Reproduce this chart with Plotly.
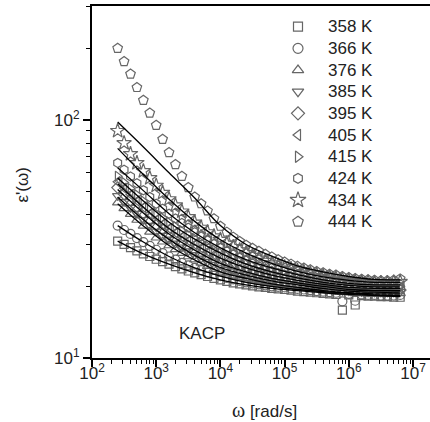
import plotly.graph_objects as go

# ---------------- data ----------------
omega = [251, 316, 398, 501, 631, 794, 1000, 1259, 1585, 1995, 2512, 3162, 3981, 5012,
         6310, 7943, 10000, 12589, 15849, 19953, 25119, 31623, 39811, 50119, 63096, 79433,
         100000, 125893, 158489, 199526, 251189, 316228, 398107, 501187, 630957, 794328,
         1000000, 1258925, 1584893, 1995262, 2511886, 3162278, 3981072, 5011872, 6309573]

temps = ["358 K", "366 K", "376 K", "385 K", "395 K", "405 K", "415 K", "424 K", "434 K", "444 K"]
symbols = ["square-open", "circle-open", "triangle-up-open", "triangle-down-open", "diamond-open",
           "triangle-left-open", "triangle-right-open", "hexagon-open", "star-open", "pentagon-open"]
sym_sizes = [8, 9, 9, 9, 9, 9, 9, 9, 11, 10]

e358 = [31.0, 30.0, 29.1, 28.2, 27.4, 26.7, 26.0, 25.4, 24.8, 24.2, 23.7, 23.2, 22.8, 22.4, 22.0,
        21.6, 21.3, 21.0, 20.7, 20.5, 20.3, 20.1, 19.9, 19.8, 19.6, 19.5, 19.4, 19.3, 19.1, 19.0,
        18.9, 18.8, 18.7, 18.6, 18.5, 15.9, 18.4, 16.7, 18.3, 18.2, 18.2, 18.1, 18.1, 18.0, 18.0]
e366 = [36.0, 34.5, 33.2, 31.9, 30.7, 29.6, 28.5, 27.6, 26.7, 25.9, 25.1, 24.5, 23.9, 23.4, 22.9,
        22.5, 22.1, 21.7, 21.4, 21.1, 20.8, 20.6, 20.4, 20.2, 20.0, 19.9, 19.8, 19.6, 19.5, 19.4,
        19.3, 19.1, 19.0, 18.9, 18.8, 17.3, 18.6, 17.4, 18.5, 18.4, 18.4, 18.3, 18.3, 18.3, 18.4]
e376 = [45.0, 42.5, 40.2, 38.0, 35.9, 33.9, 32.0, 30.8, 29.7, 28.6, 27.6, 26.7, 25.9, 25.1, 24.3,
        23.6, 23.0, 22.6, 22.2, 21.9, 21.6, 21.3, 21.0, 20.8, 20.6, 20.4, 20.2, 20.0, 19.9, 19.7,
        19.6, 19.4, 19.3, 19.2, 19.0, 18.9, 18.8, 18.7, 18.7, 18.6, 18.6, 18.6, 18.6, 18.6, 18.7]
e385 = [48.0, 45.3, 42.8, 40.4, 38.1, 36.0, 34.0, 32.7, 31.5, 30.3, 29.2, 28.1, 27.1, 26.2, 25.4,
        24.7, 24.0, 23.5, 23.1, 22.7, 22.3, 22.0, 21.7, 21.4, 21.1, 20.9, 20.7, 20.5, 20.3, 20.1,
        20.0, 19.8, 19.6, 19.5, 19.4, 19.2, 19.1, 19.0, 19.0, 18.9, 18.9, 18.9, 18.9, 18.9, 19.0]
e395 = [52.0, 48.9, 46.0, 43.3, 40.7, 38.3, 36.0, 34.6, 33.2, 31.9, 30.7, 29.6, 28.5, 27.5, 26.6,
        25.8, 25.0, 24.4, 23.9, 23.4, 23.0, 22.6, 22.3, 22.0, 21.7, 21.4, 21.2, 21.0, 20.8, 20.6,
        20.4, 20.2, 20.0, 19.9, 19.7, 19.5, 19.4, 19.3, 19.3, 19.2, 19.2, 19.2, 19.2, 19.2, 19.3]
e405 = [55.0, 51.7, 48.6, 45.7, 43.0, 40.4, 38.0, 36.5, 35.0, 33.6, 32.3, 31.1, 30.0, 29.0, 28.0,
        27.1, 26.3, 25.6, 25.0, 24.4, 23.9, 23.4, 23.0, 22.7, 22.4, 22.1, 21.8, 21.5, 21.3, 21.1,
        20.9, 20.7, 20.5, 20.3, 20.1, 20.0, 19.8, 19.7, 19.7, 19.6, 19.6, 19.6, 19.6, 19.6, 19.7]
e415 = [58.0, 54.6, 51.5, 48.5, 45.7, 43.0, 40.5, 38.8, 37.2, 35.7, 34.3, 33.0, 31.8, 30.6, 29.5,
        28.5, 27.6, 26.8, 26.1, 25.4, 24.8, 24.3, 23.8, 23.4, 23.0, 22.7, 22.4, 22.1, 21.8, 21.6,
        21.3, 21.1, 20.9, 20.7, 20.5, 20.4, 20.2, 20.1, 20.0, 20.0, 19.9, 19.9, 19.9, 19.9, 20.0]
e424 = [66.0, 61.8, 57.9, 54.2, 50.7, 47.5, 44.5, 42.4, 40.4, 38.6, 36.9, 35.3, 33.8, 32.4, 31.2,
        30.1, 29.0, 28.1, 27.3, 26.6, 25.9, 25.3, 24.8, 24.3, 23.9, 23.5, 23.2, 22.8, 22.5, 22.2,
        21.9, 21.7, 21.4, 21.2, 21.0, 20.8, 20.6, 20.5, 20.4, 20.3, 20.3, 20.2, 20.2, 20.3, 20.4]
e434 = [90.0, 80.0, 72.0, 66.0, 61.0, 57.0, 53.0, 49.5, 46.5, 43.8, 41.3, 39.1, 37.1, 35.3, 33.8,
        32.5, 31.4, 30.3, 29.3, 28.4, 27.6, 26.9, 26.2, 25.6, 25.0, 24.5, 24.1, 23.7, 23.3, 23.0,
        22.7, 22.4, 22.1, 21.9, 21.6, 21.4, 21.2, 21.0, 20.9, 20.8, 20.7, 20.7, 20.7, 20.8, 20.9]
e444 = [200, 176, 156, 137, 121, 107, 95, 83, 73, 65, 58, 52, 47.5, 44.5, 41.5,
        38.5, 35.8, 33.8, 32.2, 30.9, 29.8, 28.9, 28.1, 27.3, 26.6, 25.9, 25.3, 24.8, 24.3, 23.9,
        23.5, 23.1, 22.8, 22.5, 22.3, 22.0, 21.8, 21.6, 21.4, 21.3, 21.2, 21.1, 21.1, 21.2, 21.5]

# fitted curves (solid lines)
omega_fit = [251, 631, 1585, 3981, 10000, 25119, 63096, 158489, 398107, 1000000, 2511886, 6309573]
f358 = [31.0, 27.4, 24.8, 22.8, 21.3, 20.3, 19.6, 19.2, 18.8, 18.5, 18.3, 18.1]
f366 = [36.0, 30.7, 26.7, 23.9, 22.1, 20.8, 20.0, 19.4, 19.0, 18.7, 18.4, 18.3]
f376 = [44.5, 35.9, 29.7, 25.8, 23.0, 21.6, 20.5, 19.8, 19.2, 18.8, 18.6, 18.6]
f385 = [47.5, 38.1, 31.5, 27.0, 24.0, 22.3, 21.1, 20.3, 19.6, 19.1, 18.9, 18.9]
f395 = [51.0, 40.7, 33.2, 28.4, 25.0, 23.0, 21.6, 20.7, 20.0, 19.4, 19.2, 19.2]
f405 = [54.0, 43.0, 35.0, 29.9, 26.3, 23.9, 22.3, 21.2, 20.4, 19.8, 19.6, 19.6]
f415 = [57.0, 45.7, 37.2, 31.6, 27.6, 24.8, 23.0, 21.7, 20.8, 20.2, 19.9, 19.9]
f424 = [63.0, 50.5, 40.4, 33.6, 29.0, 25.9, 23.9, 22.4, 21.3, 20.6, 20.3, 20.3]
f434 = [76.0, 59.0, 46.5, 37.5, 31.4, 27.6, 25.0, 23.1, 21.9, 21.2, 20.8, 20.8]
f444 = [98.0, 77.0, 60.0, 47.0, 36.0, 30.0, 26.8, 24.4, 23.0, 22.0, 21.4, 21.3]

data_series = [e358, e366, e376, e385, e395, e405, e415, e424, e434, e444]
fit_series = [f358, f366, f376, f385, f395, f405, f415, f424, f434, f444]

y_tickvals = [10, 100]
y_ticktext = ["10<sup>1</sup>", "10<sup>2</sup>"]
x_tickvals = [1e2, 1e3, 1e4, 1e5, 1e6, 1e7]
x_ticktext = ["10<sup>2</sup>", "10<sup>3</sup>", "10<sup>4</sup>", "10<sup>5</sup>",
              "10<sup>6</sup>", "10<sup>7</sup>"]

legend_cols = ["sym", "lab"]

# ---------------- figure ----------------
FONT = "Liberation Sans, Arial, Helvetica, sans-serif"
MARK = "#666666"
TXT = "#222222"

fig = go.Figure()

for vals, sym, sz in zip(data_series, symbols, sym_sizes):
    fig.add_trace(go.Scatter(x=omega, y=vals, mode="markers",
                             marker=dict(symbol=sym, size=sz, color=MARK,
                                         line=dict(width=1.2, color=MARK)),
                             showlegend=False))

for fv in fit_series:
    fig.add_trace(go.Scatter(x=omega_fit, y=fv, mode="lines",
                             line=dict(color="black", width=1.3, shape="spline"),
                             showlegend=False))

# manual legend on overlay category axes
for t, sym, sz in zip(temps, symbols, sym_sizes):
    fig.add_trace(go.Scatter(x=["sym"], y=[t], xaxis="x2", yaxis="y2", mode="markers",
                             marker=dict(symbol=sym, size=sz + 1, color=MARK,
                                         line=dict(width=1.2, color=MARK)),
                             showlegend=False))

annotations = []
for t in temps:
    annotations.append(dict(x=legend_cols.index("lab"), y=temps.index(t), xref="x2", yref="y2",
                            text=t, showarrow=False, xanchor="left", yanchor="middle",
                            font=dict(family=FONT, size=17, color=TXT)))

annotations.append(dict(x=0.252, y=0.071, xref="paper", yref="paper", text="KACP",
                        showarrow=False, xanchor="left", yanchor="middle",
                        font=dict(family=FONT, size=17, color=TXT)))
annotations.append(dict(x=-0.207, y=0.49, xref="paper", yref="paper",
                        text="ε'(ω)", textangle=-90, showarrow=False,
                        xanchor="center", yanchor="middle",
                        font=dict(family=FONT, size=17, color=TXT)))
annotations.append(dict(x=0.51, y=-0.148, xref="paper", yref="paper",
                        text='<span style="font-family:Liberation Serif;font-size:20px">ω</span> [rad/s]',
                        showarrow=False, xanchor="center", yanchor="middle",
                        font=dict(family=FONT, size=17, color=TXT)))

axis_common = dict(type="log", showline=True, linecolor="black", linewidth=2,
                   ticks="outside", ticklen=7, tickwidth=1.5, tickcolor="black",
                   showgrid=False, zeroline=False,
                   tickfont=dict(family=FONT, size=17, color=TXT),
                   minor=dict(ticks="outside", ticklen=4, tickwidth=1, tickcolor="black",
                              dtick="D1", showgrid=False))

fig.update_layout(
    width=430, height=422,
    margin=dict(l=92, r=0, t=6, b=64),
    paper_bgcolor="white", plot_bgcolor="white",
    xaxis=dict(range=[2, 7.265], mirror=True, tickmode="array", tickvals=x_tickvals,
               ticktext=x_ticktext, ticklabelstandoff=-8, **axis_common),
    yaxis=dict(range=[1, 2.479], tickmode="array", tickvals=y_tickvals,
               ticktext=y_ticktext, **axis_common),
    xaxis2=dict(overlaying="x", type="category", categoryorder="array",
                categoryarray=legend_cols, range=[-7.357, 4.714], visible=False),
    yaxis2=dict(overlaying="y", type="category", categoryorder="array",
                categoryarray=temps, range=[15.29, -0.955], visible=False),
    annotations=annotations,
    showlegend=False,
)

fig.write_html("out.html")
